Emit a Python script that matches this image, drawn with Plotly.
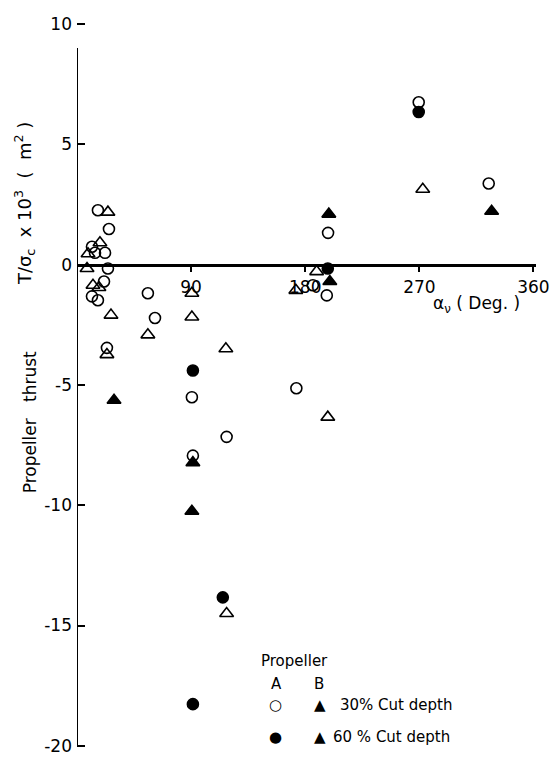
import plotly.graph_objects as go

# Propeller A, 30% cut depth (open circles)
a30_x = [16.5, 25.2, 11.8, 14.2, 22.1, 24.4, 21.3, 11.8, 16.5, 23.6, 55.9, 61.5,
         90.6, 118, 91.4, 198, 186, 197, 173, 269.5, 324.7]
a30_y = [2.26, 1.48, 0.74, 0.49, 0.49, -0.16, -0.70, -1.32, -1.48, -3.46, -1.19, -2.22,
         -5.51, -7.16, -7.94, 1.32, -0.86, -1.28, -5.14, 6.75, 3.37]
# Propeller B, 30% cut depth (open triangles)
b30_x = [24.4, 18.1, 8.7, 7.9, 12.6, 17.3, 26.8, 23.6, 55.9, 90.6, 90.6, 117.4,
         118, 189, 172.6, 197.8, 272.7]
b30_y = [2.18, 0.91, 0.45, -0.16, -0.86, -0.95, -2.10, -3.74, -2.92, -1.19, -2.18, -3.50,
         -14.5, -0.29, -1.07, -6.34, 3.13]
# Propeller A, 60% cut depth (filled circles)
a60_x = [91.4, 115, 91.4, 197.8, 269.5]
a60_y = [-4.40, -13.83, -18.27, -0.16, 6.34]
# Propeller B, 60% cut depth (filled triangles)
b60_x = [29.2, 91.4, 90.6, 199.4, 198.6, 327]
b60_y = [-5.64, -8.23, -10.25, -0.70, 2.10, 2.22]

x_ticks = [90, 180, 270, 360]
y_ticks = [10, 5, 0, -5, -10, -15, -20]
y_ticktext = ["10", "5", "0", "-5", "-10", "-15", "-20"]

FONT = "DejaVu Sans"
YMIN, YMAX = -20.05, 10.25

fig = go.Figure()
series = [
    (a30_x, a30_y, "circle-open", 11),
    (b30_x, b30_y, "triangle-up-open", 12),
    (a60_x, a60_y, "circle", 11),
    (b60_x, b60_y, "triangle-up", 12),
]
for xs, ys, sym, sz in series:
    fig.add_trace(go.Scatter(
        x=xs, y=ys, mode="markers", showlegend=False, cliponaxis=False,
        marker=dict(symbol=sym, size=sz, color="black",
                    line=dict(color="black", width=1.6)),
    ))

fig.update_layout(
    width=553, height=758,
    margin=dict(l=77, r=17, t=18, b=11),
    paper_bgcolor="white", plot_bgcolor="white",
    font=dict(family=FONT, color="black", size=16),
    xaxis=dict(
        range=[0, 362], showgrid=False, zeroline=False, automargin=False,
        tickvals=x_ticks, ticktext=[str(v) for v in x_ticks],
        ticks="outside", ticklen=6, tickwidth=1.5, tickcolor="black",
        showline=True, linecolor="black", linewidth=2.5,
        anchor="free", position=(0 - YMIN) / (YMAX - YMIN),
        tickfont=dict(size=17, family=FONT),
    ),
    yaxis=dict(
        range=[YMIN, YMAX], showgrid=False, zeroline=False, automargin=False,
        tickvals=y_ticks, ticktext=y_ticktext,
        ticks="inside", ticklen=8, tickwidth=1.5, tickcolor="black",
        showline=False,
        ticklabelstandoff=4,
        tickfont=dict(size=17, family=FONT),
    ),
)

# vertical axis line (stops a little below the top tick, as in the original)
fig.add_shape(type="line", xref="x", yref="y", x0=0, x1=0, y0=YMIN, y1=9.0,
              line=dict(color="black", width=2))

# axis titles
fig.add_annotation(x=-0.115, y=0.745, xref="paper", yref="paper", textangle=-90,
                   xanchor="center", yanchor="middle",
                   text="T/σ<sub>c</sub>  x 10<sup>3</sup>  (  m<sup>2</sup> )",
                   showarrow=False, font=dict(size=18, family=FONT))
fig.add_annotation(x=-0.103, y=0.445, xref="paper", yref="paper", textangle=-90,
                   xanchor="center", yanchor="middle",
                   text="Propeller   thrust", showarrow=False,
                   font=dict(size=17, family=FONT))
fig.add_annotation(x=315, y=-1.65, xref="x", yref="y",
                   text="α<sub>ν</sub> ( Deg. )", showarrow=False,
                   font=dict(size=17, family=FONT))

# legend block
def ann(x, y, text, size=15, xanchor="center"):
    fig.add_annotation(x=x, y=y, xref="x", yref="y", text=text, showarrow=False,
                       xanchor=xanchor, font=dict(size=size, family=FONT))

ann(171.8, -16.48, "Propeller", 15)
ann(157.6, -17.45, "A", 15)
ann(190.7, -17.45, "B", 15)
ann(156.8, -18.29, "○", 15)
ann(191.5, -18.29, "▲", 15)
ann(205.7, -18.29, "30% Cut depth", 15, "left")
ann(156.8, -19.62, "●", 15)
ann(191.5, -19.62, "▲", 15)
ann(200.2, -19.62, "60 % Cut depth", 15, "left")

fig.write_html("out.html", config={"displayModeBar": False},
               post_script="document.body.style.margin='0px';")
